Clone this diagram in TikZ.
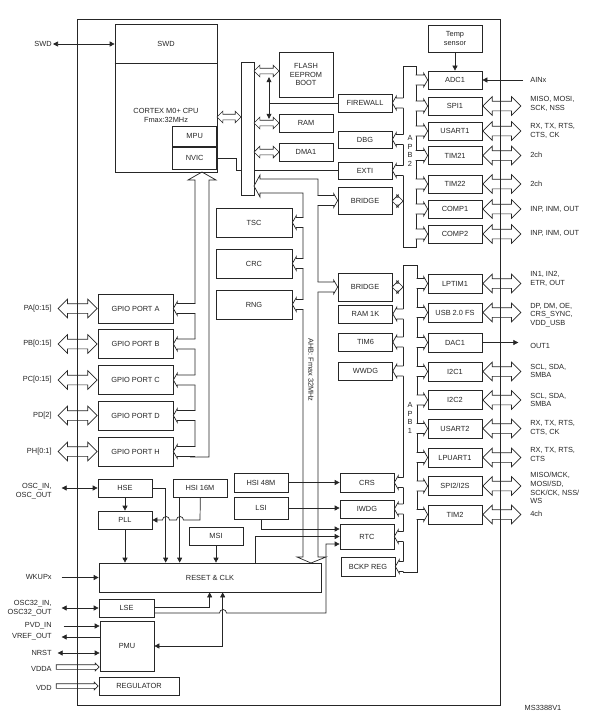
\documentclass[tikz,border=0pt]{standalone}
\usepackage{fontspec}
\setmainfont{Liberation Sans}
\usetikzlibrary{positioning,shapes.arrows,arrows.meta}

\newcommand{\blkfont}{\fontsize{7.4}{8.8}\selectfont}

\tikzset{
    blk/.style={draw, fill=white, minimum width=54pt, minimum height=18pt, inner sep=1pt, align=center, font=\blkfont},
    pin/.style={inner sep=0pt, align=right, anchor=east, font=\blkfont},
    sig/.style={inner sep=0pt, align=left, anchor=west, font=\blkfont},
    arr/.style={-{Triangle[length=5pt,width=5pt]}},
    darr/.style={{Triangle[length=5pt,width=5pt]}-{Triangle[length=5pt,width=5pt]}},
    pinbus/.style={double arrow, draw, fill=white, inner xsep=0pt, inner ysep=4.5pt, minimum height=38pt, double arrow head extend=4.5pt},
    minibus/.style={double arrow, draw, fill=white, inner xsep=0pt, inner ysep=2.5pt, minimum height=24pt, double arrow head extend=3pt},
    supply/.style={single arrow, draw, fill=white, inner xsep=0pt, inner ysep=2pt, minimum height=43pt, single arrow head extend=1.5pt},
    pics/fork/.style={code={
        \fill[white] (0,0) -- (4,-7) -- (4,-5) -- (#1+1,-5) -- (#1+1,5) -- (4,5) -- (4,7) -- cycle;
        \draw (#1,-5) -- (4,-5) -- (4,-7) -- (0,0) -- (4,7) -- (4,5) -- (#1,5);
    }},
}

\begin{document}
\begin{tikzpicture}[x=1pt, y=-1pt, line width=0.7pt, color=black!85]
    \useasboundingbox (0,0) rectangle (601,725);

    \node[blk, minimum width=102pt, minimum height=148pt] (cpu) at (166,98) {};
    \draw ([yshift=-40pt]cpu.north west) -- ([yshift=-40pt]cpu.north east);
    \node[font=\blkfont] (cpuswd) at (166,44) {SWD};
    \node[font=\blkfont, align=center] (cputxt) at (166,115.5) {CORTEX M0+ CPU\\Fmax:32MHz};
    \node[blk, minimum width=44pt, minimum height=20pt, anchor=north east] (mpu) at (217,126) {MPU};
    \node[blk, minimum width=44pt, minimum height=22pt, below=0pt of mpu] (nvic) {NVIC};

    \node[blk, minimum height=45pt] (flash) at (306,74.5) {FLASH\\EEPROM\\BOOT};
    \node[blk] (ram) at (306,123) {RAM};
    \node[blk] (dma) at (306,152) {DMA1};
    \node[blk] (firewall) at (365,103) {FIREWALL};
    \node[blk, minimum height=17pt] (dbg) at (365,139.5) {DBG};
    \node[blk, minimum height=17pt] (exti) at (365,170.5) {EXTI};
    \node[blk, minimum height=27pt] (bridgeb) at (365,200.5) {BRIDGE};
    \node[blk, minimum width=76pt, minimum height=29pt] (tsc) at (254,222.5) {TSC};
    \node[blk, minimum width=76pt, minimum height=29pt] (crc) at (254,263.5) {CRC};
    \node[blk, minimum width=76pt, minimum height=29pt] (rng) at (254,304.5) {RNG};
    \node[blk, minimum height=28pt] (bridgea) at (365,287) {BRIDGE};
    \node[blk] (ramk) at (365.5,314) {RAM 1K};
    \node[blk] (tim6) at (365.5,342) {TIM6};
    \node[blk] (wwdg) at (365.5,371) {WWDG};
    \node[blk, minimum height=19pt] (crs) at (367,482.5) {CRS};
    \node[blk] (iwdg) at (367,509) {IWDG};
    \node[blk, minimum height=25pt] (rtc) at (367,536.5) {RTC};
    \node[blk, minimum height=19pt] (bckp) at (368,566.5) {BCKP REG};

    \node[blk, minimum height=19pt] (hsim) at (261,482.5) {HSI 48M};
    \node[blk, minimum height=22pt] (lsi) at (261,508) {LSI};
    \node[blk] (msi) at (216,536) {MSI};
    \node[blk] (hse) at (125,488) {HSE};
    \node[blk] (hsik) at (200,488) {HSI 16M};
    \node[blk] (pll) at (125,520) {PLL};
    \node[blk, minimum width=222pt, minimum height=29pt] (reset) at (210,577.5) {RESET \& CLK};
    \node[blk, minimum width=55pt] (lse) at (126.5,608) {LSE};
    \node[blk, minimum height=50pt] (pmu) at (127,646) {PMU};
    \node[blk, minimum width=80pt] (reg) at (139,686) {REGULATOR};

    \node[blk, minimum width=75pt, minimum height=29pt] (gpioa) at (135.5,308.5) {GPIO PORT A};
    \node[blk, minimum width=75pt, minimum height=29pt] (gpiob) at (135.5,344) {GPIO PORT B};
    \node[blk, minimum width=75pt, minimum height=29pt] (gpioc) at (135.5,380) {GPIO PORT C};
    \node[blk, minimum width=75pt, minimum height=29pt] (gpiod) at (135.5,415.5) {GPIO PORT D};
    \node[blk, minimum width=75pt, minimum height=29pt] (gpioh) at (135.5,451.5) {GPIO PORT H};

    \node[blk, minimum height=27pt] (temp) at (455,38.5) {Temp\\sensor};
    \node[blk] (adc1) at (455,80) {ADC1};
    \node[blk] (spi1) at (455,106) {SPI1};
    \node[blk] (usarta) at (455,131) {USART1};
    \node[blk] (timba) at (455,155.5) {TIM21};
    \node[blk] (timbb) at (455,184) {TIM22};
    \node[blk] (compa) at (455,209) {COMP1};
    \node[blk] (compb) at (455,234) {COMP2};
    \node[blk, minimum height=19pt] (lptim) at (455,283.5) {LPTIM1};
    \node[blk, minimum height=19pt] (usb) at (455,312.5) {USB 2.0 FS};
    \node[blk, minimum height=19pt] (dac1) at (455,342.5) {DAC1};
    \node[blk, minimum height=19pt] (ica) at (455,371.5) {I2C1};
    \node[blk, minimum height=19pt] (icb) at (455,400) {I2C2};
    \node[blk, minimum height=19pt] (usartb) at (455,428.5) {USART2};
    \node[blk, minimum height=19pt] (lpuart) at (455,457.5) {LPUART1};
    \node[blk, minimum height=19pt] (spib) at (455,486) {SPI2/I2S};
    \node[blk, minimum height=19pt] (timc) at (455,514.5) {TIM2};

    \draw (nvic.east) -- ++(19,0) |- (exti.west);
    \node[draw, fill=white, minimum width=13pt, minimum height=133pt, inner sep=0pt] (busbar) at (247.5,128.5) {};
    \draw[fill=white] (254,186) -- (260,175) -- (260,179) -- (318,179) -- (318,557) -- (326,557) -- (311,563) -- (297,557) -- (303,557) -- (303,193) -- (260,193) -- (260,197) -- cycle;
    \draw (195,447) -- (195,180) -- (188,180) -- (202,172) -- (216,180) -- (209,180) -- (209,457) -- (190,457);
    \node[draw, fill=white, minimum width=13pt, minimum height=181pt, inner sep=0pt] (apbb) at (409.5,156.5) {};
    \node[draw, fill=white, minimum width=14pt, minimum height=307pt, inner sep=0pt] (apba) at (410,418.5) {};
    \node[font=\blkfont, align=center, inner sep=0pt] (apbbtxt) at (410,151) {A\\P\\B\\2};
    \node[font=\blkfont, align=center, inner sep=0pt] (apbatxt) at (410,418) {A\\P\\B\\1};
    \node[font=\blkfont, rotate=-90] (ahbtxt) at (311,370) {AHB: Fmax 32MHz};

    \pic at (firewall.east) {fork=11};
    \pic at (dbg.east) {fork=11};
    \pic at (exti.east) {fork=11};
    \pic[rotate=180] at (adc1.west) {fork=12};
    \pic[rotate=180] at (spi1.west) {fork=12};
    \pic[rotate=180] at (usarta.west) {fork=12};
    \pic[rotate=180] at (timba.west) {fork=12};
    \pic[rotate=180] at (timbb.west) {fork=12};
    \pic[rotate=180] at (compa.west) {fork=12};
    \pic[rotate=180] at (compb.west) {fork=12};
    \pic at (ramk.east) {fork=10.5};
    \pic at (tim6.east) {fork=10.5};
    \pic at (wwdg.east) {fork=10.5};
    \pic at (crs.east) {fork=9};
    \pic at (iwdg.east) {fork=9};
    \pic at (rtc.east) {fork=9};
    \pic at (bckp.east) {fork=8};
    \pic[rotate=180] at (lptim.west) {fork=11};
    \pic[rotate=180] at (usb.west) {fork=11};
    \pic[rotate=180] at (dac1.west) {fork=11};
    \pic[rotate=180] at (ica.west) {fork=11};
    \pic[rotate=180] at (icb.west) {fork=11};
    \pic[rotate=180] at (usartb.west) {fork=11};
    \pic[rotate=180] at (lpuart.west) {fork=11};
    \pic[rotate=180] at (spib.west) {fork=11};
    \pic[rotate=180] at (timc.west) {fork=11};
    \pic at (tsc.east) {fork=11};
    \pic at (crc.east) {fork=11};
    \pic at (rng.east) {fork=11};
    \pic[rotate=180] at (bridgeb.west) {fork=20};
    \pic[rotate=180] at (bridgea.west) {fork=20};
    \pic at (gpioa.east) {fork=22};
    \pic at (gpiob.east) {fork=22};
    \pic at (gpioc.east) {fork=22};
    \pic at (gpiod.east) {fork=22};
    \pic at (gpioh.east) {fork=22};

    \node[minibus] (cpubus) at (229,117) {};
    \node[minibus, minimum height=25pt] (flashbus) at (266.5,71) {};
    \node[minibus, minimum height=25pt] (rambus) at (266.5,123) {};
    \node[minibus, minimum height=25pt] (dmabus) at (266.5,152) {};
    \node[minibus, inner ysep=3.5pt, minimum height=11pt, double arrow head extend=2.5pt] (bridgebbus) at (397.5,201) {};
    \node[minibus, inner ysep=3.5pt, minimum height=11pt, double arrow head extend=2.5pt] (bridgeabus) at (397.5,287) {};
    \draw[darr, shorten <=3pt, shorten >=1pt] ([xshift=2.5pt]flashbus.south) -- ([xshift=2.5pt]rambus.north);
    \coordinate (fwj) at (269,103);
    \draw (fwj) -- (firewall.west);

    \draw[arr] (temp) -- (adc1);
    \node[sig] (ainx) at (530,80) {AINx};
    \draw[arr] ([xshift=-7pt]ainx.west) -- (ainx.west -| adc1.east);
    \node[sig] (out1) at (530,346) {OUT1};
    \draw[arr] (dac1.east) -- ++(36,0);

    \draw[arr] (hse) -- (pll);
    \draw[arr] (hse.east) -| ([xshift=67pt]reset.north west);
    \draw[arr] ([xshift=7pt]hsik.south west) -- ([xshift=81pt]reset.north west);
    \draw[arr] ([xshift=-27pt]hsik.south east) -- (200,520) -- (183.5,520) arc[start angle=0, end angle=-180, radius=3.5] -- (169.5,520) arc[start angle=0, end angle=-180, radius=3.5] -- (pll.east);
    \draw[arr] (pll) -- (pll.south |- reset.north);
    \draw[arr] (msi) -- (msi.south |- reset.north);
    \draw[arr] ([yshift=1pt]lse.east) -| ([xshift=111pt]reset.south west);
    \draw[arr] ([yshift=-5pt]lse.east) -- (219.5,613) arc[start angle=180, end angle=360, radius=3.5] -- (326,613) |- ([yshift=-7.5pt]rtc.west);
    \draw[darr] (pmu.east) -| ([xshift=124pt]reset.south west);
    \draw[arr] (hsim.east) -- (hsim.east -| crs.west);
    \draw[arr] (lsi.east) -- (lsi.east -| iwdg.west);
    \draw[arr] (lsi.south) |- ([yshift=7.5pt]rtc.west);
    \draw[arr] ([xshift=157pt]reset.north west) |- (rtc.west);

    \node[pin] (swdpin) at (52,44) {SWD};
    \draw[darr] ([xshift=1pt]swdpin.east) -- (swdpin.east -| cpu.west);
    \node[pin] (pa) at (52,308.5) {PA[0:15]};
    \node[pin] (pb) at (52,344) {PB[0:15]};
    \node[pin] (pc) at (52,380) {PC[0:15]};
    \node[pin] (pd) at (52,415.5) {PD[2]};
    \node[pin] (ph) at (52,451.5) {PH[0:1]};
    \node[pinbus, minimum height=39pt, left=0pt of gpioa] (gpioapin) {};
    \node[pinbus, minimum height=39pt, left=0pt of gpiob] (gpiobpin) {};
    \node[pinbus, minimum height=39pt, left=0pt of gpioc] (gpiocpin) {};
    \node[pinbus, minimum height=39pt, left=0pt of gpiod] (gpiodpin) {};
    \node[pinbus, minimum height=39pt, left=0pt of gpioh] (gpiohpin) {};
    \node[pin] (osc) at (52,491.5) {OSC\_IN,\\OSC\_OUT};
    \draw[darr] (hse.west) -- ++(-36,0);
    \node[pin] (wkup) at (52,577) {WKUPx};
    \draw[arr] (reset.west) ++(-37,0) -- (reset.west);
    \node[pin] (oscb) at (52,608.5) {OSC32\_IN,\\OSC32\_OUT};
    \draw[darr] (lse.west) -- ++(-37,0);
    \node[pin] (pvd) at (52,626) {PVD\_IN};
    \draw[arr] ([yshift=20pt]pmu.west) ++(-36,0) -- ([yshift=20pt]pmu.west);
    \node[pin] (vref) at (52,637) {VREF\_OUT};
    \draw[arr] ([yshift=9pt]pmu.west) -- ++(-38,0);
    \node[pin] (nrst) at (52,653) {NRST};
    \draw[darr] ([yshift=-7pt]pmu.west) -- ++(-42,0);
    \node[pin] (vdda) at (52,669) {VDDA};
    \node[supply, anchor=east] (vddabus) at ([yshift=-21pt]pmu.west) {};
    \node[pin] (vdd) at (52,688) {VDD};
    \node[supply, minimum height=42pt, left=0pt of reg] (vddbus) {};

    \node[pinbus, right=0pt of spi1] (spi1pin) {};
    \node[pinbus, right=0pt of usarta] (usartapin) {};
    \node[pinbus, right=0pt of timba] (timbapin) {};
    \node[pinbus, right=0pt of timbb] (timbbpin) {};
    \node[pinbus, right=0pt of compa] (compapin) {};
    \node[pinbus, right=0pt of compb] (compbpin) {};
    \node[pinbus, right=0pt of lptim] (lptimpin) {};
    \node[pinbus, right=0pt of usb] (usbpin) {};
    \node[pinbus, right=0pt of ica] (icapin) {};
    \node[pinbus, right=0pt of icb] (icbpin) {};
    \node[pinbus, right=0pt of usartb] (usartbpin) {};
    \node[pinbus, right=0pt of lpuart] (lpuartpin) {};
    \node[pinbus, right=0pt of spib] (spibpin) {};
    \node[pinbus, right=0pt of timc] (timcpin) {};
    \node[sig] (spi1sig) at (530,103.5) {MISO, MOSI,\\SCK, NSS};
    \node[sig] (usartasig) at (530,130.5) {RX, TX, RTS,\\CTS, CK};
    \node[sig] (timbasig) at (530,155) {2ch};
    \node[sig] (timbbsig) at (530,183.5) {2ch};
    \node[sig] (compasig) at (530,209) {INP, INM, OUT};
    \node[sig] (compbsig) at (530,233.5) {INP, INM, OUT};
    \node[sig] (lptimsig) at (530,278.5) {IN1, IN2,\\ETR, OUT};
    \node[sig] (usbsig) at (530,315) {DP, DM, OE,\\CRS\_SYNC,\\VDD\_USB};
    \node[sig] (icasig) at (530,371) {SCL, SDA,\\SMBA};
    \node[sig] (icbsig) at (530,400) {SCL, SDA,\\SMBA};
    \node[sig] (usartbsig) at (530,428) {RX, TX, RTS,\\CTS, CK};
    \node[sig] (lpuartsig) at (530,454.5) {RX, TX, RTS,\\CTS};
    \node[sig] (spibsig) at (530,488) {MISO/MCK,\\MOSI/SD,\\SCK/CK, NSS/\\WS};
    \node[sig] (timcsig) at (530,514) {4ch};

    \node[draw, minimum width=423pt, minimum height=686pt, inner sep=0pt] (chip) at (288.5,362) {};
    \node[font=\blkfont] (msid) at (543,708) {MS3388V1};
\end{tikzpicture}
\end{document}
